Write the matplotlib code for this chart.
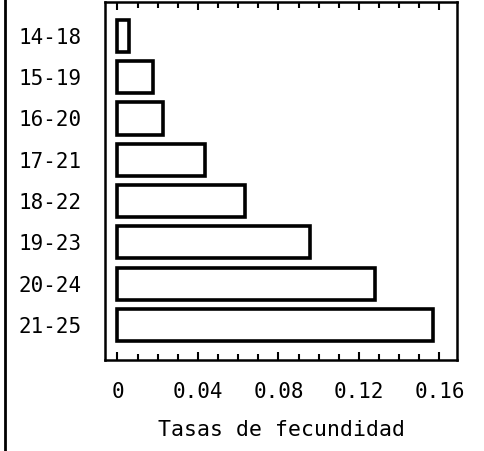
import matplotlib
matplotlib.use("Agg")
import matplotlib.pyplot as plt
from matplotlib.ticker import MultipleLocator
from matplotlib.lines import Line2D

categories = ["14-18", "15-19", "16-20", "17-21", "18-22", "19-23", "20-24", "21-25"]
values = [0.0057, 0.0177, 0.0227, 0.0435, 0.0634, 0.0957, 0.128, 0.157]
xticks = [0, 0.04, 0.08, 0.12, 0.16]
xticklabels = ["0", "0.04", "0.08", "0.12", "0.16"]

plt.rcParams['font.family'] = ['DejaVu Sans Mono']

fig = plt.figure(figsize=(4.84, 4.51), dpi=100)
ax = fig.add_axes([105/484, 1 - 360/451, (457-105)/484, (360-2)/451])

ypos = list(range(len(categories)))
ax.barh(ypos, values, height=0.78, left=0, facecolor='white', edgecolor='black', linewidth=2.6)

ax.set_xlim(-0.0062, 0.1687)
ax.set_ylim(7.85, -0.82)
ax.set_yticks(ypos)
ax.set_yticklabels(categories, fontsize=15)
ax.set_xticks(xticks)
ax.set_xticklabels(xticklabels, fontsize=15)
ax.xaxis.set_minor_locator(MultipleLocator(0.01))
ax.tick_params(axis='x', which='both', direction='in', top=True, bottom=True, width=1.5, pad=16)
ax.tick_params(axis='x', which='major', length=6)
ax.tick_params(axis='x', which='minor', length=4)
ax.tick_params(axis='y', which='both', length=0, pad=16.5)
for s in ax.spines.values():
    s.set_linewidth(1.8)
ax.set_xlabel("Tasas de fecundidad", fontsize=15.5, labelpad=13)

fig.add_artist(Line2D([5/484, 5/484], [0, 1], transform=fig.transFigure, color='black', linewidth=2))

fig.savefig("out.png", dpi=100, facecolor='white')
